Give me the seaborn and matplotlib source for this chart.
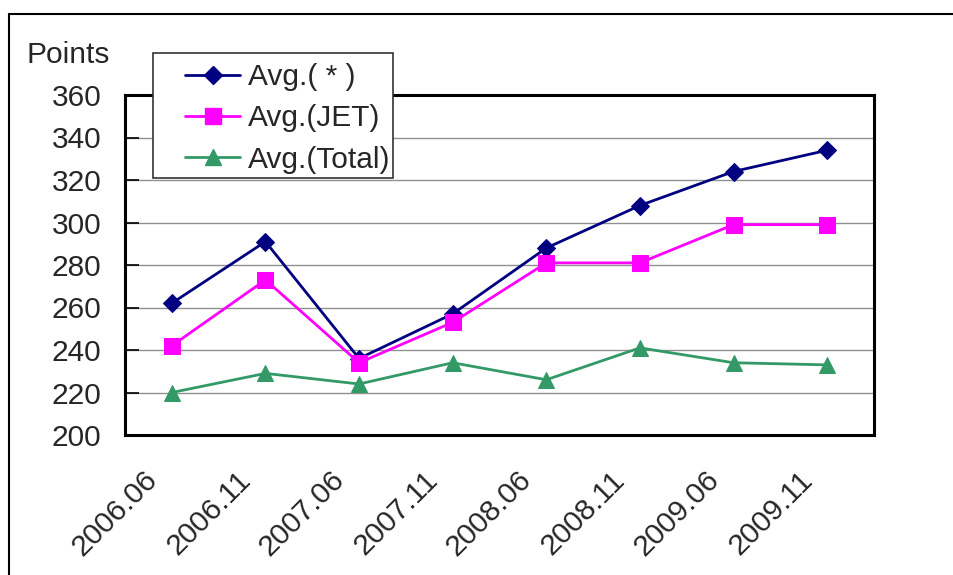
import numpy as np
import pandas as pd
import matplotlib
matplotlib.use("Agg")
import matplotlib.pyplot as plt
import matplotlib.transforms as mtransforms
from matplotlib.lines import Line2D
from matplotlib.patches import Rectangle
import seaborn as sns

# data
periods = ["2006.06", "2006.11", "2007.06", "2007.11",
           "2008.06", "2008.11", "2009.06", "2009.11"]
avg_star = [262, 291, 236, 257, 288, 308, 324, 334]
avg_jet = [242, 273, 234, 253, 281, 281, 299, 299]
avg_total = [220, 229, 224, 234, 226, 241, 234, 233]

series_names = ["Avg.( * )", "Avg.(JET)", "Avg.(Total)"]
colors = ["#000080", "#FF00FF", "#339966"]
markers = ["D", "s", "^"]
msizes = [9, 11, 11]

df = pd.DataFrame({
    "pos": list(range(len(periods))) * 3,
    "value": avg_star + avg_jet + avg_total,
    "series": [s for s in series_names for _ in periods],
})

sns.set_style("white")
plt.rcParams["font.family"] = ["Liberation Sans", "DejaVu Sans"]

W, H = 954, 575
FS = 21.5
fig = plt.figure(figsize=(W / 100, H / 100), dpi=100)
ax = fig.add_axes([125 / W, 1 - 435 / H, (874 - 125) / W, (435 - 95) / H])

for name, col, mk, ms in zip(series_names, colors, markers, msizes):
    sub = df[df["series"] == name]
    sns.lineplot(data=sub, x="pos", y="value", color=col, marker=mk,
                 markersize=ms, markeredgecolor=col, linewidth=2.0, ax=ax,
                 legend=False)

ax.set_xlim(-0.5, len(periods) - 0.5)
ax.set_ylim(200, 360)
ax.set_yticks(np.arange(200, 361, 20))
ax.yaxis.grid(True, color="#909090", linewidth=1.0)
ax.set_axisbelow(True)
for sp in ax.spines.values():
    sp.set_visible(True)
    sp.set_color("black")
    sp.set_linewidth(2.2)

ax.set_xticks(np.arange(len(periods)))
ax.set_xticklabels(periods, rotation=45, ha="right", va="center",
                   rotation_mode="anchor")
ax.set_xticks(np.arange(0.5, len(periods) - 0.5, 1), minor=True)
ax.tick_params(axis="x", which="major", length=0, pad=29, labelsize=FS)
ax.tick_params(axis="x", which="minor", direction="in", length=11, width=1.2, color="black")
ax.tick_params(axis="y", direction="in", length=10, width=1.2, color="black",
               labelsize=FS, pad=17, left=True)
ax.set_xlabel("")
ax.set_ylabel("")

shift = mtransforms.ScaledTranslation(-19 / 100, 0, fig.dpi_scale_trans)
for lab in ax.get_xticklabels():
    lab.set_transform(lab.get_transform() + shift)

fig.text(27 / W, 1 - 63 / H, "Points", fontsize=FS, va="baseline", ha="left")

# figure frame (top and left)
fig.add_artist(Line2D([9 / W, 1], [1 - 14 / H, 1 - 14 / H], color="black", lw=1.5,
                      transform=fig.transFigure))
fig.add_artist(Line2D([9 / W, 9 / W], [0, 1 - 14 / H], color="black", lw=1.5,
                      transform=fig.transFigure))

# legend box
fig.add_artist(Rectangle((153 / W, 1 - 178 / H), (393 - 153) / W, (178 - 53) / H,
                         transform=fig.transFigure, facecolor="white",
                         edgecolor="#333333", lw=1.2, zorder=5))
handles = [Line2D([], [], color=c, marker=m, markersize=s, lw=2.0)
           for c, m, s in zip(colors, markers, msizes)]
leg = fig.legend(handles, series_names, loc="upper left",
                 bbox_to_anchor=(185 / W, 1 - 63 / H), frameon=False,
                 fontsize=FS, handlelength=1.85, handletextpad=0.25,
                 labelspacing=0.45, borderpad=0, borderaxespad=0)
leg.set_zorder(6)

fig.savefig("out.png", dpi=100)
